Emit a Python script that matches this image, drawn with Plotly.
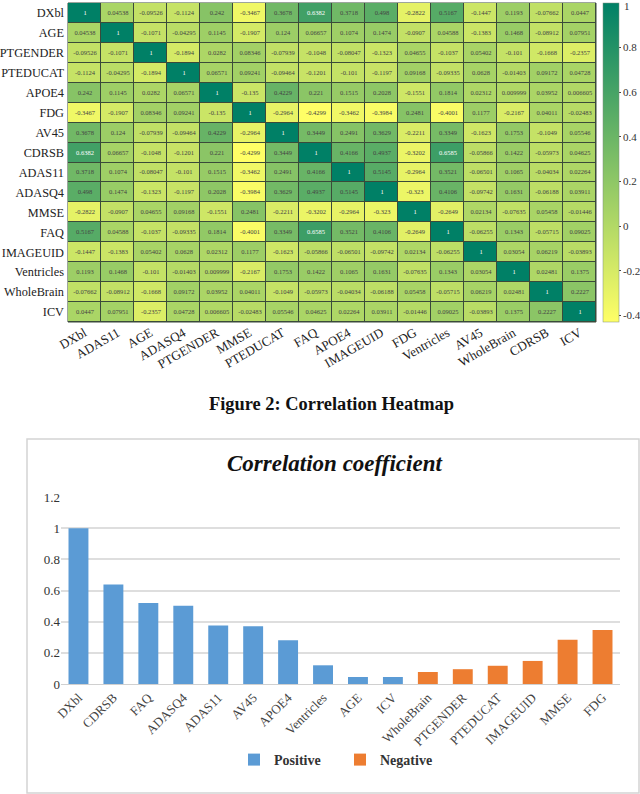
import plotly.graph_objects as go

W, H = 640, 794
FONT = "Liberation Serif"

row_labels = ["DXbl", "AGE", "PTGENDER", "PTEDUCAT", "APOE4", "FDG", "AV45", "CDRSB", "ADAS11",
              "ADASQ4", "MMSE", "FAQ", "IMAGEUID", "Ventricles", "WholeBrain", "ICV"]
column_labels = ["DXbl", "ADAS11", "AGE", "ADASQ4", "PTGENDER", "MMSE", "PTEDUCAT", "FAQ", "APOE4",
                 "IMAGEUID", "FDG", "Ventricles", "AV45", "WholeBrain", "CDRSB", "ICV"]

row_dxbl = [1, 0.04538, -0.09526, -0.1124, 0.242, -0.3467, 0.3678, 0.6382, 0.3718, 0.498, -0.2822, 0.5167, -0.1447, 0.1193, -0.07662, 0.0447]
row_age = [0.04538, 1, -0.1071, -0.04295, 0.1145, -0.1907, 0.124, 0.06657, 0.1074, 0.1474, -0.0907, 0.04588, -0.1383, 0.1468, -0.08912, 0.07951]
row_gender = [-0.09526, -0.1071, 1, -0.1894, 0.0282, 0.08346, -0.07939, -0.1048, -0.08047, -0.1323, 0.04655, -0.1037, 0.05402, -0.101, -0.1668, -0.2357]
row_educat = [-0.1124, -0.04295, -0.1894, 1, 0.06571, 0.09241, -0.09464, -0.1201, -0.101, -0.1197, 0.09168, -0.09335, 0.0628, -0.01403, 0.09172, 0.04728]
row_apoe4 = [0.242, 0.1145, 0.0282, 0.06571, 1, -0.135, 0.4229, 0.221, 0.1515, 0.2028, -0.1551, 0.1814, 0.02312, 0.009999, 0.03952, 0.006605]
row_fdg = [-0.3467, -0.1907, 0.08346, 0.09241, -0.135, 1, -0.2964, -0.4299, -0.3462, -0.3984, 0.2481, -0.4001, 0.1177, -0.2167, 0.04011, -0.02483]
row_av45 = [0.3678, 0.124, -0.07939, -0.09464, 0.4229, -0.2964, 1, 0.3449, 0.2491, 0.3629, -0.2211, 0.3349, -0.1623, 0.1753, -0.1049, 0.05546]
row_cdrsb = [0.6382, 0.06657, -0.1048, -0.1201, 0.221, -0.4299, 0.3449, 1, 0.4166, 0.4937, -0.3202, 0.6585, -0.05866, 0.1422, -0.05973, 0.04625]
row_adas11 = [0.3718, 0.1074, -0.08047, -0.101, 0.1515, -0.3462, 0.2491, 0.4166, 1, 0.5145, -0.2964, 0.3521, -0.06501, 0.1065, -0.04034, 0.02264]
row_adasq4 = [0.498, 0.1474, -0.1323, -0.1197, 0.2028, -0.3984, 0.3629, 0.4937, 0.5145, 1, -0.323, 0.4106, -0.09742, 0.1631, -0.06188, 0.03911]
row_mmse = [-0.2822, -0.0907, 0.04655, 0.09168, -0.1551, 0.2481, -0.2211, -0.3202, -0.2964, -0.323, 1, -0.2649, 0.02134, -0.07635, 0.05458, -0.01446]
row_faq = [0.5167, 0.04588, -0.1037, -0.09335, 0.1814, -0.4001, 0.3349, 0.6585, 0.3521, 0.4106, -0.2649, 1, -0.06255, 0.1343, -0.05715, 0.09025]
row_imageuid = [-0.1447, -0.1383, 0.05402, 0.0628, 0.02312, 0.1177, -0.1623, -0.05866, -0.06501, -0.09742, 0.02134, -0.06255, 1, 0.03054, 0.06219, -0.03893]
row_ventricles = [0.1193, 0.1468, -0.101, -0.01403, 0.009999, -0.2167, 0.1753, 0.1422, 0.1065, 0.1631, -0.07635, 0.1343, 0.03054, 1, 0.02481, 0.1375]
row_wholebrain = [-0.07662, -0.08912, -0.1668, 0.09172, 0.03952, 0.04011, -0.1049, -0.05973, -0.04034, -0.06188, 0.05458, -0.05715, 0.06219, 0.02481, 1, 0.2227]
row_icv = [0.0447, 0.07951, -0.2357, 0.04728, 0.006605, -0.02483, 0.05546, 0.04625, 0.02264, 0.03911, -0.01446, 0.09025, -0.03893, 0.1375, 0.2227, 1]

matrix = [row_dxbl, row_age, row_gender, row_educat, row_apoe4, row_fdg, row_av45, row_cdrsb,
          row_adas11, row_adasq4, row_mmse, row_faq, row_imageuid, row_ventricles, row_wholebrain, row_icv]

positive_names = ["DXbl", "CDRSB", "FAQ", "ADASQ4", "ADAS11", "AV45", "APOE4", "Ventricles", "AGE", "ICV"]
positive_values = [1.0, 0.638, 0.52, 0.502, 0.375, 0.37, 0.28, 0.12, 0.045, 0.045]
negative_names = ["WholeBrain", "PTGENDER", "PTEDUCAT", "IMAGEUID", "MMSE", "FDG"]
negative_values = [0.077, 0.095, 0.117, 0.148, 0.284, 0.347]


def fx(px):
    return px / W


def fy(py):
    return 1 - py / H


fig = go.Figure()

fig.add_trace(go.Heatmap(
    z=matrix,
    x=list(range(16)),
    y=list(range(16)),
    xaxis="x", yaxis="y",
    zmin=-0.4299, zmax=1,
    colorscale=[[0, "#ffff66"], [1, "#008066"]],
    xgap=1, ygap=1,
    texttemplate="%{z:.4~g}",
    textfont=dict(family=FONT, size=6.5),
    hoverongaps=False,
    colorbar=dict(
        x=fx(603), xanchor="left", xpad=0,
        y=fy(3), yanchor="top", ypad=0,
        lenmode="pixels", len=319,
        thicknessmode="pixels", thickness=16,
        outlinewidth=0.5, outlinecolor="#7f8f7f",
        tickmode="array",
        tickvals=[-0.4, -0.2, 0, 0.2, 0.4, 0.6, 0.8],
        ticktext=["-0.4", "-0.2", "0", "0.2", "0.4", "0.6", "0.8"],
        ticks="outside", ticklen=2, tickcolor="#444",
        tickfont=dict(family=FONT, size=11, color="#333"),
    ),
))

fig.add_trace(go.Bar(
    x=positive_names, y=positive_values, name="Positive",
    marker=dict(color="#5b9bd5", line=dict(width=0)),
    xaxis="x2", yaxis="y2", width=0.57,
))
fig.add_trace(go.Bar(
    x=negative_names, y=negative_values, name="Negative",
    marker=dict(color="#ed7d31", line=dict(width=0)),
    xaxis="x2", yaxis="y2", width=0.57,
))

fig.update_layout(
    width=W, height=H, margin=dict(l=0, r=0, t=0, b=0, autoexpand=False),
    paper_bgcolor="white", plot_bgcolor="white",
    font=dict(family=FONT, color="#222"),
    xaxis=dict(
        domain=[fx(68), fx(596)], range=[-0.5, 15.5],
        tickmode="array", tickvals=list(range(16)), ticktext=column_labels,
        tickangle=-30, ticks="", showgrid=False, zeroline=False,
        tickfont=dict(family=FONT, size=13, color="#222"), anchor="y",
    ),
    yaxis=dict(
        domain=[fy(322), fy(3)], range=[15.5, -0.5],
        tickmode="array", tickvals=list(range(16)), ticktext=row_labels,
        ticks="", showgrid=False, zeroline=False, ticklabelstandoff=3,
        tickfont=dict(family=FONT, size=12.3, color="#222"), anchor="x",
    ),
    xaxis2=dict(
        domain=[fx(61), fx(620)], anchor="y2",
        categoryorder="array", categoryarray=positive_names + negative_names,
        tickangle=-45, ticks="", showgrid=False, zeroline=False,
        showline=True, linecolor="#d0d0d0", linewidth=1,
        tickfont=dict(family=FONT, size=13, color="#444"),
        range=[-0.5, 15.5],
    ),
    yaxis2=dict(
        domain=[fy(684), fy(497)], anchor="x2", range=[0, 1.2],
        tickmode="array", tickvals=[0, 0.2, 0.4, 0.6, 0.8, 1, 1.2],
        ticktext=["0", "0.2", "0.4", "0.6", "0.8", "1", "1.2"],
        showgrid=True, gridcolor="#dedede", gridwidth=1.5, zeroline=False,
        ticks="", tickfont=dict(family=FONT, size=13, color="#333"),
    ),
    legend=dict(
        orientation="h", x=fx(234), xanchor="left", y=fy(760), yanchor="middle",
        entrywidth=61, entrywidthmode="pixels", bgcolor="rgba(0,0,0,0)",
        font=dict(family=FONT, size=14, color="#333", weight="bold"),
        itemclick=False,
    ),
    shapes=[
        dict(type="rect", xref="paper", yref="paper",
             x0=fx(27), x1=fx(639), y0=fy(793), y1=fy(439),
             line=dict(color="#d4d4d4", width=1.5), layer="below"),
        dict(type="rect", xref="paper", yref="paper",
             x0=fx(68), x1=fx(596), y0=fy(322), y1=fy(3),
             fillcolor="#3a4a3a", line=dict(color="#3a4a3a", width=1), layer="below"),
    ],
    annotations=[
        dict(text="<b>Figure 2: Correlation Heatmap</b>", xref="paper", yref="paper",
             x=fx(331), y=fy(404), xanchor="center", yanchor="middle", showarrow=False,
             font=dict(family=FONT, size=18.4, color="#111")),
        dict(text="<b><i>Correlation coefficient</i></b>", xref="paper", yref="paper",
             x=fx(334), y=fy(463), xanchor="center", yanchor="middle", showarrow=False,
             font=dict(family=FONT, size=23, color="#111")),
        dict(text="1", xref="paper", yref="paper",
             x=fx(623), y=fy(6), xanchor="left", yanchor="middle", showarrow=False,
             borderpad=0, font=dict(family=FONT, size=11, color="#333")),
    ],
)

fig.write_html("out.html", config=dict(displayModeBar=False),
               post_script="document.body.style.margin='0';document.body.style.overflow='hidden';")
